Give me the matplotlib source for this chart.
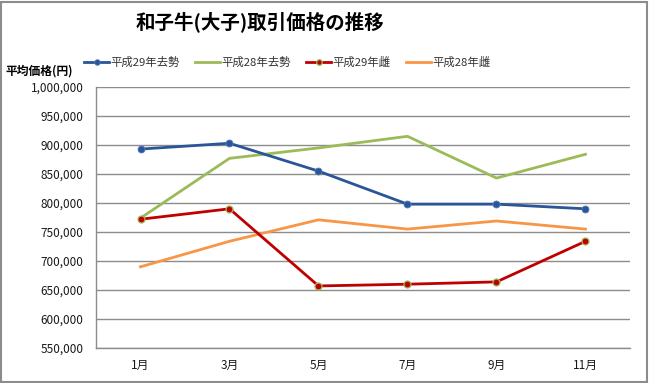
import matplotlib.pyplot as plt
from matplotlib.patches import Rectangle
from matplotlib.ticker import FuncFormatter

plt.rcParams['font.family'] = ['Noto Sans CJK JP', 'DejaVu Sans']

months = ["1月", "3月", "5月", "7月", "9月", "11月"]
steer_h29 = [893000, 903000, 855000, 798000, 798000, 790000]
steer_h28 = [774000, 877000, 895000, 915000, 843000, 884000]
heifer_h29 = [772000, 790000, 657000, 660000, 664000, 734000]
heifer_h28 = [690000, 734000, 771000, 755000, 769000, 755000]

title = "和子牛(大子)取引価格の推移"
ylabel = "平均価格(円)"


def main():
    fig = plt.figure(figsize=(6.5, 3.83), dpi=100)
    ax = fig.add_axes([0.1477, 0.0914, 0.8215, 0.6814])

    x = list(range(len(months)))
    ax.plot(x, steer_h29, color="#2A5596", lw=2.0, marker="o", ms=5,
            mfc="#2A5596", mec="#4F7FC0", mew=0.6, label="平成29年去勢", zorder=4)
    ax.plot(x, steer_h28, color="#9BBB59", lw=2.0, label="平成28年去勢", zorder=3)
    ax.plot(x, heifer_h29, color="#C00000", lw=2.0, marker="o", ms=5,
            mfc="#C00000", mec="#9BBB59", mew=0.9, label="平成29年雌", zorder=4)
    ax.plot(x, heifer_h28, color="#F79646", lw=2.0, label="平成28年雌", zorder=3)

    ax.set_xlim(-0.5, len(months) - 0.5)
    ax.set_ylim(550000, 1000000)
    ax.set_yticks(range(550000, 1000001, 50000))
    ax.yaxis.set_major_formatter(FuncFormatter(lambda v, p: f"{int(v):,}"))
    ax.set_xticks(x)
    ax.set_xticklabels(months)
    ax.tick_params(axis="both", length=0, labelsize=8.5, colors="#1A1A1A")
    ax.tick_params(axis="x", pad=8)
    ax.tick_params(axis="y", pad=9)

    ax.grid(axis="y", color="#8C8C8C", lw=1.0)
    ax.set_axisbelow(True)
    for side in ["top", "right"]:
        ax.spines[side].set_visible(False)
    for side in ["left", "bottom"]:
        ax.spines[side].set_color("#8C8C8C")
        ax.spines[side].set_linewidth(1.0)

    fig.text(0.40, 0.943, title, ha="center", va="center", fontsize=14,
             fontweight="bold")
    fig.text(0.008, 0.815, ylabel, ha="left", va="center", fontsize=8.5,
             fontweight="bold")

    leg = fig.legend(loc="center", bbox_to_anchor=(0.442, 0.838), ncol=4,
                     frameon=False, fontsize=8.2, handlelength=2.2,
                     columnspacing=1.3, handletextpad=0.15, markerscale=0.8)
    for t in leg.get_texts():
        t.set_color("#333333")

    fig.patches.append(Rectangle((0.002, 0.003), 0.993, 0.992,
                                 transform=fig.transFigure, fill=False,
                                 edgecolor="#8C8C8C", lw=1.5))

    fig.savefig("out.png", dpi=100)
    plt.close(fig)


if __name__ == "__main__":
    main()
